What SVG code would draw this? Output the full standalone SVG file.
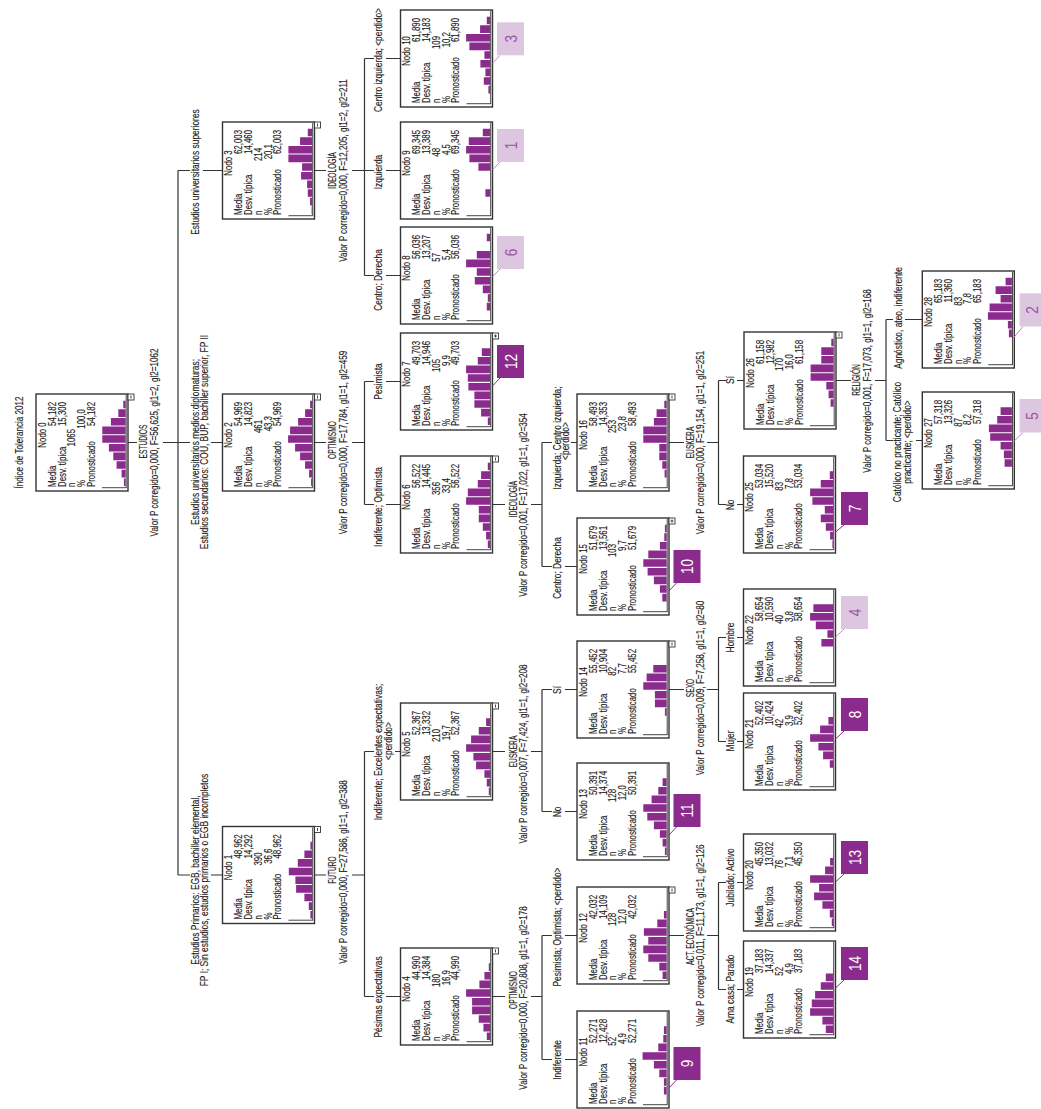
<svg xmlns="http://www.w3.org/2000/svg" width="1041" height="1109" viewBox="0 0 1041 1109">
<style>
.box{fill:#fff;stroke:#333;stroke-width:1.4}
.tb{font-family:"Liberation Sans",Arial,sans-serif;font-size:10.5px;fill:#1e1a1b;stroke:#1e1a1b;stroke-width:0.15}
.c{text-anchor:middle}
.e{text-anchor:end}
.bar{fill:#8b2b8d}
.ax{fill:none;stroke:#333;stroke-width:0.9}
.ic rect{fill:#fff;stroke:#333;stroke-width:0.9}
.ic path{fill:none;stroke:#333;stroke-width:0.9}
.ln{fill:none;stroke:#333;stroke-width:1.2}
.lb{font-family:"Liberation Sans",Arial,sans-serif;font-size:10.5px;fill:#1e1a1b;stroke:#1e1a1b;stroke-width:0.15;text-anchor:middle}
.bd{fill:#8b2b8d}
.bl{fill:#dcc6e0}
.ld{fill:none;stroke:#8b2b8d;stroke-width:1}
.ll{fill:none;stroke:#b98cbf;stroke-width:1}
.bn{font-family:"Liberation Sans",Arial,sans-serif;font-size:17px;text-anchor:middle;fill:#fff}
.bnl{font-family:"Liberation Sans",Arial,sans-serif;font-size:17px;text-anchor:middle;fill:#9b55a0}
</style>
<rect width="1041" height="1109" fill="#fff"/>
<text class="lb" transform="translate(22.5 442.5) rotate(-90) scale(0.77 1)">Índice de Tolerancia 2012</text>

<g id="connectors" class="ln">
<path d="M128 442.5H137M163 442.5H178M178 170.5V875M178 170.5H190M203 170.5H222.5M178 442.5H190M211 442.5H222.5M178 875H190M211 875H222.5"/>
<path d="M314.5 170.5H326M352 170.5H364.5M364.5 58.5V275.5M364.5 58.5H374M386 58.5H400.5M364.5 170.5H374M386 170.5H400.5M364.5 275.5H374M386 275.5H400.5"/>
<path d="M314.5 442.5H326M352 442.5H364.5M364.5 381.5V504.5M364.5 381.5H374M386 381.5H400.5M364.5 504.5H374M386 504.5H400.5"/>
<path d="M314.5 875H326M352 875H364.5M364.5 751.5V996.5M364.5 751.5H374M395 751.5H400.5M364.5 996.5H374M386 996.5H400.5"/>
<path d="M492.5 996.5H505M531 996.5H542M542 935.5V1059.5M542 935.5H552M565 935.5H577M542 1059.5H552M565 1059.5H577"/>
<path d="M492.5 751.5H505M531 751.5H542M542 689.5V811.5M542 689.5H552M565 689.5H577M542 811.5H552M565 811.5H577"/>
<path d="M492.5 504.5H505M531 504.5H542M542 442.5V566.5M542 442.5H552M571 442.5H577M542 566.5H552M565 566.5H577"/>
<path d="M669 935.5H684M707 935.5H718.5M718.5 882.5V989.5M718.5 882.5H726M737 882.5H743.5M718.5 989.5H726M737 989.5H743.5"/>
<path d="M669 689.5H684M707 689.5H718.5M718.5 637.5V741.5M718.5 637.5H726M737 637.5H743.5M718.5 741.5H726M737 741.5H743.5"/>
<path d="M669 442.5H684M707 442.5H718.5M718.5 380.5V504.5M718.5 380.5H726M737 380.5H744M718.5 504.5H726M737 504.5H743.5"/>
<path d="M836 380.5H851M875 380.5H886M886 319.5V440.5M886 319.5H893M905 319.5H922.3M886 440.5H893M916 440.5H922.3"/>
</g>

<g id="edge-labels">
<text class="lb" transform="translate(198.5 172) rotate(-90) scale(0.8 1)">Estudios universitarios superiores</text>
<text class="lb" transform="translate(198.5 442) rotate(-90) scale(0.8 1)">Estudios universitarios medios:diplomaturas;</text>
<text class="lb" transform="translate(207.5 442) rotate(-90) scale(0.8 1)">Estudios secundarios: COU, BUP, bachiller superior, FP II</text>
<text class="lb" transform="translate(198.5 880) rotate(-90) scale(0.8 1)">Estudios Primarios: EGB, bachiller elemental,</text>
<text class="lb" transform="translate(207.5 880) rotate(-90) scale(0.8 1)">FP I; Sin estudios, estudios primarios o EGB incompletos</text>
<text class="lb" transform="translate(382 60) rotate(-90) scale(0.8 1)">Centro izquierda; &lt;perdido&gt;</text>
<text class="lb" transform="translate(382 172) rotate(-90) scale(0.8 1)">Izquierda</text>
<text class="lb" transform="translate(382 280) rotate(-90) scale(0.8 1)">Centro; Derecha</text>
<text class="lb" transform="translate(382 381.5) rotate(-90) scale(0.8 1)">Pesimista</text>
<text class="lb" transform="translate(382 507) rotate(-90) scale(0.8 1)">Indiferente; Optimista</text>
<text class="lb" transform="translate(382 752) rotate(-90) scale(0.8 1)">Indiferente; Excelentes expectativas;</text>
<text class="lb" transform="translate(391.5 741) rotate(-90) scale(0.8 1)">&lt;perdido&gt;</text>
<text class="lb" transform="translate(382 997) rotate(-90) scale(0.8 1)">Pésimas expectativas</text>
<text class="lb" transform="translate(560.5 438) rotate(-90) scale(0.8 1)">Izquierda; Centro izquierda;</text>
<text class="lb" transform="translate(569 441) rotate(-90) scale(0.8 1)">&lt;perdido&gt;</text>
<text class="lb" transform="translate(561 568) rotate(-90) scale(0.8 1)">Centro; Derecha</text>
<text class="lb" transform="translate(561 690) rotate(-90) scale(0.8 1)">Sí</text>
<text class="lb" transform="translate(561 812) rotate(-90) scale(0.8 1)">No</text>
<text class="lb" transform="translate(561 927) rotate(-90) scale(0.8 1)">Pesimista; Optimista; &lt;perdido&gt;</text>
<text class="lb" transform="translate(561 1060) rotate(-90) scale(0.8 1)">Indiferente</text>
<text class="lb" transform="translate(734 380) rotate(-90) scale(0.8 1)">Sí</text>
<text class="lb" transform="translate(734 505) rotate(-90) scale(0.8 1)">No</text>
<text class="lb" transform="translate(734 637.5) rotate(-90) scale(0.8 1)">Hombre</text>
<text class="lb" transform="translate(734 741) rotate(-90) scale(0.8 1)">Mujer</text>
<text class="lb" transform="translate(734 877.5) rotate(-90) scale(0.8 1)">Jubilado; Activo</text>
<text class="lb" transform="translate(734 989) rotate(-90) scale(0.8 1)">Ama casa; Parado</text>
<text class="lb" transform="translate(901.5 318) rotate(-90) scale(0.8 1)">Agnóstico, ateo, indiferente</text>
<text class="lb" transform="translate(901 442) rotate(-90) scale(0.8 1)">Católico no practicante; Católico</text>
<text class="lb" transform="translate(911 442) rotate(-90) scale(0.8 1)">practicante; &lt;perdido&gt;</text>
</g>

<g id="split-labels">
<text class="lb" transform="translate(146.5 441.5) rotate(-90) scale(0.63 1)">ESTUDIOS</text>
<text class="lb" transform="translate(158 442.5) rotate(-90) scale(0.77 1)">Valor P corregido=0,000, F=56,625, gl1=2, gl2=1062</text>
<text class="lb" transform="translate(335.5 170.5) rotate(-90) scale(0.63 1)">IDEOLOGÍA</text>
<text class="lb" transform="translate(346.5 170.5) rotate(-90) scale(0.77 1)">Valor P corregido=0,000, F=12,205, gl1=2, gl2=211</text>
<text class="lb" transform="translate(335.5 440) rotate(-90) scale(0.63 1)">OPTIMISMO</text>
<text class="lb" transform="translate(346.5 442.5) rotate(-90) scale(0.77 1)">Valor P corregido=0,000, F=17,784, gl1=1, gl2=459</text>
<text class="lb" transform="translate(335.5 870) rotate(-90) scale(0.63 1)">FUTURO</text>
<text class="lb" transform="translate(346.5 872) rotate(-90) scale(0.77 1)">Valor P corregido=0,000, F=27,586, gl1=1, gl2=388</text>
<text class="lb" transform="translate(516.5 990) rotate(-90) scale(0.63 1)">OPTIMISMO</text>
<text class="lb" transform="translate(527 998) rotate(-90) scale(0.77 1)">Valor P corregido=0,000, F=20,808, gl1=1, gl2=178</text>
<text class="lb" transform="translate(516.5 751.5) rotate(-90) scale(0.63 1)">EUSKERA</text>
<text class="lb" transform="translate(527 754) rotate(-90) scale(0.77 1)">Valor P corregido=0,007, F=7,424, gl1=1, gl2=208</text>
<text class="lb" transform="translate(516.5 499) rotate(-90) scale(0.63 1)">IDEOLOGÍA</text>
<text class="lb" transform="translate(527 505) rotate(-90) scale(0.77 1)">Valor P corregido=0,001, F=17,022, gl1=1, gl2=354</text>
<text class="lb" transform="translate(693.5 936.5) rotate(-90) scale(0.63 1)">ACT. ECONÓMICA</text>
<text class="lb" transform="translate(703.5 935.5) rotate(-90) scale(0.77 1)">Valor P corregido=0,011, F=11,173, gl1=1, gl2=126</text>
<text class="lb" transform="translate(693.5 688) rotate(-90) scale(0.63 1)">SEXO</text>
<text class="lb" transform="translate(703.5 688) rotate(-90) scale(0.77 1)">Valor P corregido=0,009, F=7,258, gl1=1, gl2=80</text>
<text class="lb" transform="translate(693.5 442.5) rotate(-90) scale(0.63 1)">EUSKERA</text>
<text class="lb" transform="translate(703.5 442.5) rotate(-90) scale(0.77 1)">Valor P corregido=0,000, F=19,154, gl1=1, gl2=251</text>
<text class="lb" transform="translate(859.5 380) rotate(-90) scale(0.63 1)">RELIGIÓN</text>
<text class="lb" transform="translate(871 381) rotate(-90) scale(0.77 1)">Valor P corregido=0,001, F=17,073, gl1=1, gl2=168</text>
</g>

<g id="node-0"><g transform="translate(36 491) rotate(-90)">
<rect class="box" width="97" height="92"/>
<g class="tb" transform="scale(0.75 1)"><text x="74.7" y="10" class="c">Nodo 0</text><text x="5.3" y="20">Media</text><text x="5.3" y="29.7">Desv. típica</text><text x="5.3" y="39.4">n</text><text x="5.3" y="49.1">%</text><text x="5.3" y="58.8">Pronosticado</text><text x="118.7" y="20" class="e">54,182</text><text x="118.7" y="29.7" class="e">15,300</text><text x="82.7" y="39.4" class="e">1065</text><text x="109.3" y="49.1" class="e">100,0</text><text x="118.7" y="58.8" class="e">54,182</text></g>
<path class="bar" d="M4.9 89.6v-1.7h7.6v1.7zM13.55 89.6v-4h7.6v4zM22.2 89.6v-9h7.6v9zM30.85 89.6v-12.3h7.6v12.3zM39.5 89.6v-16.7h7.6v16.7zM48.15 89.6v-23.3h7.6v23.3zM56.8 89.6v-23.3h7.6v23.3zM65.45 89.6v-14.7h7.6v14.7zM74.1 89.6v-7.3h7.6v7.3zM82.75 89.6v-2.3h7.6v2.3z"/>
<path class="ax" d="M3.3 66V90.6M3.3 90.2H96"/>
<g class="ic"><rect x="91" y="92" width="6" height="6"/><path d="M92.5 95H95.5"/></g>
</g></g>

<g id="node-1"><g transform="translate(222.5 923.5) rotate(-90)">
<rect class="box" width="97" height="92"/>
<g class="tb" transform="scale(0.75 1)"><text x="74.7" y="10" class="c">Nodo 1</text><text x="5.3" y="20">Media</text><text x="5.3" y="29.7">Desv. típica</text><text x="5.3" y="39.4">n</text><text x="5.3" y="49.1">%</text><text x="5.3" y="58.8">Pronosticado</text><text x="118.7" y="20" class="e">48,962</text><text x="118.7" y="29.7" class="e">14,292</text><text x="94.7" y="39.4" class="e">390</text><text x="100" y="49.1" class="e">36,6</text><text x="118.7" y="58.8" class="e">48,962</text></g>
<path class="bar" d="M4.9 89.6v-1.7h7.6v1.7zM13.55 89.6v-3.3h7.6v3.3zM22.2 89.6v-7.7h7.6v7.7zM30.85 89.6v-16h7.6v16zM39.5 89.6v-16.7h7.6v16.7zM48.15 89.6v-23.3h7.6v23.3zM56.8 89.6v-14.3h7.6v14.3zM65.45 89.6v-7.7h7.6v7.7zM74.1 89.6v-1.7h7.6v1.7z"/>
<path class="ax" d="M3.3 66V90.6M3.3 90.2H96"/>
<g class="ic"><rect x="91" y="92" width="6" height="6"/><path d="M92.5 95H95.5"/></g>
</g></g>

<g id="node-2"><g transform="translate(222.5 491) rotate(-90)">
<rect class="box" width="97" height="92"/>
<g class="tb" transform="scale(0.75 1)"><text x="74.7" y="10" class="c">Nodo 2</text><text x="5.3" y="20">Media</text><text x="5.3" y="29.7">Desv. típica</text><text x="5.3" y="39.4">n</text><text x="5.3" y="49.1">%</text><text x="5.3" y="58.8">Pronosticado</text><text x="118.7" y="20" class="e">54,969</text><text x="118.7" y="29.7" class="e">14,823</text><text x="94.7" y="39.4" class="e">461</text><text x="100" y="49.1" class="e">43,3</text><text x="118.7" y="58.8" class="e">54,969</text></g>
<path class="bar" d="M4.9 89.6v-1h7.6v1zM13.55 89.6v-3h7.6v3zM22.2 89.6v-7h7.6v7zM30.85 89.6v-12h7.6v12zM39.5 89.6v-17h7.6v17zM48.15 89.6v-24h7.6v24zM56.8 89.6v-22h7.6v22zM65.45 89.6v-14h7.6v14zM74.1 89.6v-7h7.6v7zM82.75 89.6v-2h7.6v2z"/>
<path class="ax" d="M3.3 66V90.6M3.3 90.2H96"/>
<g class="ic"><rect x="91" y="92" width="6" height="6"/><path d="M92.5 95H95.5"/></g>
</g></g>

<g id="node-3"><g transform="translate(222.5 219) rotate(-90)">
<rect class="box" width="97" height="92"/>
<g class="tb" transform="scale(0.75 1)"><text x="74.7" y="10" class="c">Nodo 3</text><text x="5.3" y="20">Media</text><text x="5.3" y="29.7">Desv. típica</text><text x="5.3" y="39.4">n</text><text x="5.3" y="49.1">%</text><text x="5.3" y="58.8">Pronosticado</text><text x="118.7" y="20" class="e">62,003</text><text x="118.7" y="29.7" class="e">14,460</text><text x="94.7" y="39.4" class="e">214</text><text x="100" y="49.1" class="e">20,1</text><text x="118.7" y="58.8" class="e">62,003</text></g>
<path class="bar" d="M4.9 89.6v-0.5h7.6v0.5zM13.55 89.6v-2h7.6v2zM22.2 89.6v-4.3h7.6v4.3zM30.85 89.6v-5h7.6v5zM39.5 89.6v-11h7.6v11zM48.15 89.6v-10h7.6v10zM56.8 89.6v-23.7h7.6v23.7zM65.45 89.6v-23.7h7.6v23.7zM74.1 89.6v-12h7.6v12zM82.75 89.6v-4.3h7.6v4.3z"/>
<path class="ax" d="M3.3 66V90.6M3.3 90.2H96"/>
<g class="ic"><rect x="91" y="92" width="6" height="6"/><path d="M92.5 95H95.5"/></g>
</g></g>

<g id="node-4"><g transform="translate(400.5 1045) rotate(-90)">
<rect class="box" width="97" height="92"/>
<g class="tb" transform="scale(0.75 1)"><text x="74.7" y="10" class="c">Nodo 4</text><text x="5.3" y="20">Media</text><text x="5.3" y="29.7">Desv. típica</text><text x="5.3" y="39.4">n</text><text x="5.3" y="49.1">%</text><text x="5.3" y="58.8">Pronosticado</text><text x="118.7" y="20" class="e">44,990</text><text x="118.7" y="29.7" class="e">14,384</text><text x="94.7" y="39.4" class="e">180</text><text x="100" y="49.1" class="e">16,9</text><text x="118.7" y="58.8" class="e">44,990</text></g>
<path class="bar" d="M4.9 89.6v-3.3h7.6v3.3zM13.55 89.6v-6.7h7.6v6.7zM22.2 89.6v-11.3h7.6v11.3zM30.85 89.6v-18h7.6v18zM39.5 89.6v-18h7.6v18zM48.15 89.6v-24h7.6v24zM56.8 89.6v-10.7h7.6v10.7zM65.45 89.6v-5.7h7.6v5.7zM74.1 89.6v-1.3h7.6v1.3z"/>
<path class="ax" d="M3.3 66V90.6M3.3 90.2H96"/>
<g class="ic"><rect x="91" y="92" width="6" height="6"/><path d="M92.5 95H95.5"/></g>
</g></g>

<g id="node-5"><g transform="translate(400.5 800) rotate(-90)">
<rect class="box" width="97" height="92"/>
<g class="tb" transform="scale(0.75 1)"><text x="74.7" y="10" class="c">Nodo 5</text><text x="5.3" y="20">Media</text><text x="5.3" y="29.7">Desv. típica</text><text x="5.3" y="39.4">n</text><text x="5.3" y="49.1">%</text><text x="5.3" y="58.8">Pronosticado</text><text x="118.7" y="20" class="e">52,367</text><text x="118.7" y="29.7" class="e">13,332</text><text x="94.7" y="39.4" class="e">210</text><text x="100" y="49.1" class="e">19,7</text><text x="118.7" y="58.8" class="e">52,367</text></g>
<path class="bar" d="M4.9 89.6v-1.3h7.6v1.3zM13.55 89.6v-3.3h7.6v3.3zM22.2 89.6v-5.7h7.6v5.7zM30.85 89.6v-14h7.6v14zM39.5 89.6v-16.7h7.6v16.7zM48.15 89.6v-24h7.6v24zM56.8 89.6v-19h7.6v19zM65.45 89.6v-11.3h7.6v11.3zM74.1 89.6v-4h7.6v4z"/>
<path class="ax" d="M3.3 66V90.6M3.3 90.2H96"/>
<g class="ic"><rect x="91" y="92" width="6" height="6"/><path d="M92.5 95H95.5"/></g>
</g></g>

<g id="node-6"><g transform="translate(400.5 553) rotate(-90)">
<rect class="box" width="97" height="92"/>
<g class="tb" transform="scale(0.75 1)"><text x="74.7" y="10" class="c">Nodo 6</text><text x="5.3" y="20">Media</text><text x="5.3" y="29.7">Desv. típica</text><text x="5.3" y="39.4">n</text><text x="5.3" y="49.1">%</text><text x="5.3" y="58.8">Pronosticado</text><text x="118.7" y="20" class="e">56,522</text><text x="118.7" y="29.7" class="e">14,445</text><text x="94.7" y="39.4" class="e">356</text><text x="100" y="49.1" class="e">33,4</text><text x="118.7" y="58.8" class="e">56,522</text></g>
<path class="bar" d="M4.9 89.6v-2.3h7.6v2.3zM13.55 89.6v-4h7.6v4zM22.2 89.6v-7.3h7.6v7.3zM30.85 89.6v-11.3h7.6v11.3zM39.5 89.6v-11.3h7.6v11.3zM48.15 89.6v-24h7.6v24zM56.8 89.6v-22.3h7.6v22.3zM65.45 89.6v-12.3h7.6v12.3zM74.1 89.6v-9h7.6v9zM82.75 89.6v-2.3h7.6v2.3z"/>
<path class="ax" d="M3.3 66V90.6M3.3 90.2H96"/>
<g class="ic"><rect x="91" y="92" width="6" height="6"/><path d="M92.5 95H95.5"/></g>
</g></g>

<g id="node-7"><g transform="translate(400.5 430) rotate(-90)">
<rect class="box" width="97" height="92"/>
<g class="tb" transform="scale(0.75 1)"><text x="74.7" y="10" class="c">Nodo 7</text><text x="5.3" y="20">Media</text><text x="5.3" y="29.7">Desv. típica</text><text x="5.3" y="39.4">n</text><text x="5.3" y="49.1">%</text><text x="5.3" y="58.8">Pronosticado</text><text x="118.7" y="20" class="e">49,703</text><text x="118.7" y="29.7" class="e">14,946</text><text x="94.7" y="39.4" class="e">105</text><text x="100" y="49.1" class="e">9,9</text><text x="118.7" y="58.8" class="e">49,703</text></g>
<path class="bar" d="M4.9 89.6v-2.3h7.6v2.3zM13.55 89.6v-9h7.6v9zM22.2 89.6v-15.7h7.6v15.7zM30.85 89.6v-15.7h7.6v15.7zM39.5 89.6v-21.7h7.6v21.7zM48.15 89.6v-22.3h7.6v22.3zM56.8 89.6v-24h7.6v24zM65.45 89.6v-12.3h7.6v12.3zM74.1 89.6v-8.3h7.6v8.3z"/>
<path class="ax" d="M3.3 66V90.6M3.3 90.2H96"/>
<g class="ic"><rect x="91" y="92" width="6" height="6"/><path d="M92.5 95H95.5M94 93.5V96.5"/></g>
</g>
<path class="ld" d="M492.5 386L500 378"/>
<rect class="bd" x="497" y="345" width="27" height="33"/>
<text class="bn" transform="translate(510.5 361.5) rotate(-90) scale(0.8 1)" y="6.1">12</text>
</g>

<g id="node-8"><g transform="translate(400.5 324) rotate(-90)">
<rect class="box" width="97" height="92"/>
<g class="tb" transform="scale(0.75 1)"><text x="74.7" y="10" class="c">Nodo 8</text><text x="5.3" y="20">Media</text><text x="5.3" y="29.7">Desv. típica</text><text x="5.3" y="39.4">n</text><text x="5.3" y="49.1">%</text><text x="5.3" y="58.8">Pronosticado</text><text x="118.7" y="20" class="e">56,036</text><text x="118.7" y="29.7" class="e">13,207</text><text x="94.7" y="39.4" class="e">57</text><text x="100" y="49.1" class="e">5,4</text><text x="118.7" y="58.8" class="e">56,036</text></g>
<path class="bar" d="M13.55 89.6v-3.3h7.6v3.3zM22.2 89.6v-2.3h7.6v2.3zM30.85 89.6v-7.3h7.6v7.3zM39.5 89.6v-15.3h7.6v15.3zM48.15 89.6v-13.3h7.6v13.3zM56.8 89.6v-24h7.6v24zM65.45 89.6v-13.3h7.6v13.3zM82.75 89.6v-3.3h7.6v3.3z"/>
<path class="ax" d="M3.3 66V90.6M3.3 90.2H96"/>
</g>
<path class="ll" d="M492.5 277L500 269"/>
<rect class="bl" x="497" y="236" width="27" height="33"/>
<text class="bnl" transform="translate(510.5 252.5) rotate(-90) scale(0.8 1)" y="6.1">6</text>
</g>

<g id="node-9"><g transform="translate(400.5 219) rotate(-90)">
<rect class="box" width="97" height="92"/>
<g class="tb" transform="scale(0.75 1)"><text x="74.7" y="10" class="c">Nodo 9</text><text x="5.3" y="20">Media</text><text x="5.3" y="29.7">Desv. típica</text><text x="5.3" y="39.4">n</text><text x="5.3" y="49.1">%</text><text x="5.3" y="58.8">Pronosticado</text><text x="118.7" y="20" class="e">69,345</text><text x="118.7" y="29.7" class="e">13,389</text><text x="94.7" y="39.4" class="e">48</text><text x="100" y="49.1" class="e">4,5</text><text x="118.7" y="58.8" class="e">69,345</text></g>
<path class="bar" d="M22.2 89.6v-4.7h7.6v4.7zM48.15 89.6v-11.7h7.6v11.7zM56.8 89.6v-20.7h7.6v20.7zM65.45 89.6v-24h7.6v24zM74.1 89.6v-21.3h7.6v21.3zM82.75 89.6v-7.3h7.6v7.3z"/>
<path class="ax" d="M3.3 66V90.6M3.3 90.2H96"/>
</g>
<path class="ll" d="M492.5 170L500 162"/>
<rect class="bl" x="497" y="129" width="27" height="33"/>
<text class="bnl" transform="translate(510.5 145.5) rotate(-90) scale(0.8 1)" y="6.1">1</text>
</g>

<g id="node-10"><g transform="translate(400.5 107) rotate(-90)">
<rect class="box" width="97" height="92"/>
<g class="tb" transform="scale(0.75 1)"><text x="74.7" y="10" class="c">Nodo 10</text><text x="5.3" y="20">Media</text><text x="5.3" y="29.7">Desv. típica</text><text x="5.3" y="39.4">n</text><text x="5.3" y="49.1">%</text><text x="5.3" y="58.8">Pronosticado</text><text x="118.7" y="20" class="e">61,890</text><text x="118.7" y="29.7" class="e">14,183</text><text x="94.7" y="39.4" class="e">109</text><text x="100" y="49.1" class="e">10,2</text><text x="118.7" y="58.8" class="e">61,890</text></g>
<path class="bar" d="M13.55 89.6v-1.7h7.6v1.7zM22.2 89.6v-6.3h7.6v6.3zM30.85 89.6v-4.7h7.6v4.7zM39.5 89.6v-9.7h7.6v9.7zM48.15 89.6v-5.7h7.6v5.7zM56.8 89.6v-20.7h7.6v20.7zM65.45 89.6v-24h7.6v24zM74.1 89.6v-10h7.6v10zM82.75 89.6v-3.3h7.6v3.3z"/>
<path class="ax" d="M3.3 66V90.6M3.3 90.2H96"/>
</g>
<path class="ll" d="M492.5 63.3L500 55.3"/>
<rect class="bl" x="497" y="22.3" width="27" height="33"/>
<text class="bnl" transform="translate(510.5 38.8) rotate(-90) scale(0.8 1)" y="6.1">3</text>
</g>

<g id="node-11"><g transform="translate(577 1108) rotate(-90)">
<rect class="box" width="97" height="92"/>
<g class="tb" transform="scale(0.75 1)"><text x="74.7" y="10" class="c">Nodo 11</text><text x="5.3" y="20">Media</text><text x="5.3" y="29.7">Desv. típica</text><text x="5.3" y="39.4">n</text><text x="5.3" y="49.1">%</text><text x="5.3" y="58.8">Pronosticado</text><text x="118.7" y="20" class="e">52,271</text><text x="118.7" y="29.7" class="e">12,428</text><text x="94.7" y="39.4" class="e">52</text><text x="100" y="49.1" class="e">4,9</text><text x="118.7" y="58.8" class="e">52,271</text></g>
<path class="bar" d="M13.55 89.6v-2.7h7.6v2.7zM22.2 89.6v-2.7h7.6v2.7zM30.85 89.6v-7.3h7.6v7.3zM39.5 89.6v-12.7h7.6v12.7zM48.15 89.6v-24h7.6v24zM56.8 89.6v-8.3h7.6v8.3zM65.45 89.6v-3.3h7.6v3.3zM74.1 89.6v-2.7h7.6v2.7z"/>
<path class="ax" d="M3.3 66V90.6M3.3 90.2H96"/>
</g>
<path class="ld" d="M669 1088L676.5 1080"/>
<rect class="bd" x="673.5" y="1047" width="27" height="33"/>
<text class="bn" transform="translate(687 1063.5) rotate(-90) scale(0.8 1)" y="6.1">9</text>
</g>

<g id="node-12"><g transform="translate(577 984) rotate(-90)">
<rect class="box" width="97" height="92"/>
<g class="tb" transform="scale(0.75 1)"><text x="74.7" y="10" class="c">Nodo 12</text><text x="5.3" y="20">Media</text><text x="5.3" y="29.7">Desv. típica</text><text x="5.3" y="39.4">n</text><text x="5.3" y="49.1">%</text><text x="5.3" y="58.8">Pronosticado</text><text x="118.7" y="20" class="e">42,032</text><text x="118.7" y="29.7" class="e">14,109</text><text x="94.7" y="39.4" class="e">128</text><text x="100" y="49.1" class="e">12,0</text><text x="118.7" y="58.8" class="e">42,032</text></g>
<path class="bar" d="M4.9 89.6v-4h7.6v4zM13.55 89.6v-7.3h7.6v7.3zM22.2 89.6v-18.3h7.6v18.3zM30.85 89.6v-23.3h7.6v23.3zM39.5 89.6v-18.3h7.6v18.3zM48.15 89.6v-22.7h7.6v22.7zM56.8 89.6v-9.3h7.6v9.3zM65.45 89.6v-2.7h7.6v2.7z"/>
<path class="ax" d="M3.3 66V90.6M3.3 90.2H96"/>
<g class="ic"><rect x="91" y="92" width="6" height="6"/><path d="M92.5 95H95.5"/></g>
</g></g>

<g id="node-13"><g transform="translate(577 860) rotate(-90)">
<rect class="box" width="97" height="92"/>
<g class="tb" transform="scale(0.75 1)"><text x="74.7" y="10" class="c">Nodo 13</text><text x="5.3" y="20">Media</text><text x="5.3" y="29.7">Desv. típica</text><text x="5.3" y="39.4">n</text><text x="5.3" y="49.1">%</text><text x="5.3" y="58.8">Pronosticado</text><text x="118.7" y="20" class="e">50,391</text><text x="118.7" y="29.7" class="e">14,374</text><text x="94.7" y="39.4" class="e">128</text><text x="100" y="49.1" class="e">12,0</text><text x="118.7" y="58.8" class="e">50,391</text></g>
<path class="bar" d="M4.9 89.6v-1.7h7.6v1.7zM13.55 89.6v-4h7.6v4zM22.2 89.6v-6.7h7.6v6.7zM30.85 89.6v-12.7h7.6v12.7zM39.5 89.6v-19.3h7.6v19.3zM48.15 89.6v-23.3h7.6v23.3zM56.8 89.6v-15h7.6v15zM65.45 89.6v-8.3h7.6v8.3zM74.1 89.6v-4h7.6v4z"/>
<path class="ax" d="M3.3 66V90.6M3.3 90.2H96"/>
</g>
<path class="ld" d="M669 835L676.5 827"/>
<rect class="bd" x="673.5" y="794" width="27" height="33"/>
<text class="bn" transform="translate(687 810.5) rotate(-90) scale(0.8 1)" y="6.1">11</text>
</g>

<g id="node-14"><g transform="translate(577 738) rotate(-90)">
<rect class="box" width="97" height="92"/>
<g class="tb" transform="scale(0.75 1)"><text x="74.7" y="10" class="c">Nodo 14</text><text x="5.3" y="20">Media</text><text x="5.3" y="29.7">Desv. típica</text><text x="5.3" y="39.4">n</text><text x="5.3" y="49.1">%</text><text x="5.3" y="58.8">Pronosticado</text><text x="118.7" y="20" class="e">55,452</text><text x="118.7" y="29.7" class="e">10,904</text><text x="94.7" y="39.4" class="e">82</text><text x="100" y="49.1" class="e">7,7</text><text x="118.7" y="58.8" class="e">55,452</text></g>
<path class="bar" d="M22.2 89.6v-1.7h7.6v1.7zM30.85 89.6v-11.7h7.6v11.7zM39.5 89.6v-11.7h7.6v11.7zM48.15 89.6v-23.3h7.6v23.3zM56.8 89.6v-20h7.6v20zM65.45 89.6v-13.3h7.6v13.3z"/>
<path class="ax" d="M3.3 66V90.6M3.3 90.2H96"/>
<g class="ic"><rect x="91" y="92" width="6" height="6"/><path d="M92.5 95H95.5"/></g>
</g></g>

<g id="node-15"><g transform="translate(577 615) rotate(-90)">
<rect class="box" width="97" height="92"/>
<g class="tb" transform="scale(0.75 1)"><text x="74.7" y="10" class="c">Nodo 15</text><text x="5.3" y="20">Media</text><text x="5.3" y="29.7">Desv. típica</text><text x="5.3" y="39.4">n</text><text x="5.3" y="49.1">%</text><text x="5.3" y="58.8">Pronosticado</text><text x="118.7" y="20" class="e">51,679</text><text x="118.7" y="29.7" class="e">13,561</text><text x="94.7" y="39.4" class="e">103</text><text x="100" y="49.1" class="e">9,7</text><text x="118.7" y="58.8" class="e">51,679</text></g>
<path class="bar" d="M13.55 89.6v-4.3h7.6v4.3zM22.2 89.6v-6.7h7.6v6.7zM30.85 89.6v-12.7h7.6v12.7zM39.5 89.6v-19h7.6v19zM48.15 89.6v-23.3h7.6v23.3zM56.8 89.6v-18.3h7.6v18.3zM65.45 89.6v-6.7h7.6v6.7zM74.1 89.6v-2.3h7.6v2.3zM82.75 89.6v-1.7h7.6v1.7z"/>
<path class="ax" d="M3.3 66V90.6M3.3 90.2H96"/>
<g class="ic"><rect x="91" y="92" width="6" height="6"/><path d="M92.5 95H95.5M94 93.5V96.5"/></g>
</g>
<path class="ld" d="M669 591L676.5 583"/>
<rect class="bd" x="673.5" y="550" width="27" height="33"/>
<text class="bn" transform="translate(687 566.5) rotate(-90) scale(0.8 1)" y="6.1">10</text>
</g>

<g id="node-16"><g transform="translate(577 491) rotate(-90)">
<rect class="box" width="97" height="92"/>
<g class="tb" transform="scale(0.75 1)"><text x="74.7" y="10" class="c">Nodo 16</text><text x="5.3" y="20">Media</text><text x="5.3" y="29.7">Desv. típica</text><text x="5.3" y="39.4">n</text><text x="5.3" y="49.1">%</text><text x="5.3" y="58.8">Pronosticado</text><text x="118.7" y="20" class="e">58,493</text><text x="118.7" y="29.7" class="e">14,353</text><text x="94.7" y="39.4" class="e">253</text><text x="100" y="49.1" class="e">23,8</text><text x="118.7" y="58.8" class="e">58,493</text></g>
<path class="bar" d="M13.55 89.6v-2h7.6v2zM22.2 89.6v-4.3h7.6v4.3zM30.85 89.6v-7.3h7.6v7.3zM39.5 89.6v-7.3h7.6v7.3zM48.15 89.6v-23.3h7.6v23.3zM56.8 89.6v-23.3h7.6v23.3zM65.45 89.6v-12.7h7.6v12.7zM74.1 89.6v-10h7.6v10zM82.75 89.6v-2.3h7.6v2.3z"/>
<path class="ax" d="M3.3 66V90.6M3.3 90.2H96"/>
<g class="ic"><rect x="91" y="92" width="6" height="6"/><path d="M92.5 95H95.5"/></g>
</g></g>

<g id="node-19"><g transform="translate(743.5 1038) rotate(-90)">
<rect class="box" width="97" height="92"/>
<g class="tb" transform="scale(0.75 1)"><text x="74.7" y="10" class="c">Nodo 19</text><text x="5.3" y="20">Media</text><text x="5.3" y="29.7">Desv. típica</text><text x="5.3" y="39.4">n</text><text x="5.3" y="49.1">%</text><text x="5.3" y="58.8">Pronosticado</text><text x="118.7" y="20" class="e">37,183</text><text x="118.7" y="29.7" class="e">14,337</text><text x="94.7" y="39.4" class="e">52</text><text x="100" y="49.1" class="e">4,9</text><text x="118.7" y="58.8" class="e">37,183</text></g>
<path class="bar" d="M4.9 89.6v-7.3h7.6v7.3zM13.55 89.6v-10.7h7.6v10.7zM22.2 89.6v-23h7.6v23zM30.85 89.6v-21.3h7.6v21.3zM39.5 89.6v-18h7.6v18zM48.15 89.6v-12.3h7.6v12.3zM56.8 89.6v-7.3h7.6v7.3z"/>
<path class="ax" d="M3.3 66V90.6M3.3 90.2H96"/>
</g>
<path class="ld" d="M835.5 988L844 980"/>
<rect class="bd" x="841" y="947" width="27" height="33"/>
<text class="bn" transform="translate(854.5 963.5) rotate(-90) scale(0.8 1)" y="6.1">14</text>
</g>

<g id="node-20"><g transform="translate(743.5 931) rotate(-90)">
<rect class="box" width="97" height="92"/>
<g class="tb" transform="scale(0.75 1)"><text x="74.7" y="10" class="c">Nodo 20</text><text x="5.3" y="20">Media</text><text x="5.3" y="29.7">Desv. típica</text><text x="5.3" y="39.4">n</text><text x="5.3" y="49.1">%</text><text x="5.3" y="58.8">Pronosticado</text><text x="118.7" y="20" class="e">45,350</text><text x="118.7" y="29.7" class="e">13,032</text><text x="94.7" y="39.4" class="e">76</text><text x="100" y="49.1" class="e">7,1</text><text x="118.7" y="58.8" class="e">45,350</text></g>
<path class="bar" d="M4.9 89.6v-1.3h7.6v1.3zM13.55 89.6v-3.3h7.6v3.3zM22.2 89.6v-10.7h7.6v10.7zM30.85 89.6v-19h7.6v19zM39.5 89.6v-14h7.6v14zM48.15 89.6v-23h7.6v23zM56.8 89.6v-8h7.6v8zM65.45 89.6v-3h7.6v3z"/>
<path class="ax" d="M3.3 66V90.6M3.3 90.2H96"/>
</g>
<path class="ld" d="M835.5 882L844 874"/>
<rect class="bd" x="841" y="841" width="27" height="33"/>
<text class="bn" transform="translate(854.5 857.5) rotate(-90) scale(0.8 1)" y="6.1">13</text>
</g>

<g id="node-21"><g transform="translate(743.5 790) rotate(-90)">
<rect class="box" width="97" height="92"/>
<g class="tb" transform="scale(0.75 1)"><text x="74.7" y="10" class="c">Nodo 21</text><text x="5.3" y="20">Media</text><text x="5.3" y="29.7">Desv. típica</text><text x="5.3" y="39.4">n</text><text x="5.3" y="49.1">%</text><text x="5.3" y="58.8">Pronosticado</text><text x="118.7" y="20" class="e">52,402</text><text x="118.7" y="29.7" class="e">10,424</text><text x="94.7" y="39.4" class="e">42</text><text x="100" y="49.1" class="e">3,9</text><text x="118.7" y="58.8" class="e">52,402</text></g>
<path class="bar" d="M22.2 89.6v-3.3h7.6v3.3zM30.85 89.6v-10h7.6v10zM39.5 89.6v-14.7h7.6v14.7zM48.15 89.6v-23h7.6v23zM56.8 89.6v-13h7.6v13zM65.45 89.6v-4.7h7.6v4.7z"/>
<path class="ax" d="M3.3 66V90.6M3.3 90.2H96"/>
</g>
<path class="ld" d="M835.5 739L844 731"/>
<rect class="bd" x="841" y="698" width="27" height="33"/>
<text class="bn" transform="translate(854.5 714.5) rotate(-90) scale(0.8 1)" y="6.1">8</text>
</g>

<g id="node-22"><g transform="translate(743.5 686) rotate(-90)">
<rect class="box" width="97" height="92"/>
<g class="tb" transform="scale(0.75 1)"><text x="74.7" y="10" class="c">Nodo 22</text><text x="5.3" y="20">Media</text><text x="5.3" y="29.7">Desv. típica</text><text x="5.3" y="39.4">n</text><text x="5.3" y="49.1">%</text><text x="5.3" y="58.8">Pronosticado</text><text x="118.7" y="20" class="e">58,654</text><text x="118.7" y="29.7" class="e">10,590</text><text x="94.7" y="39.4" class="e">40</text><text x="100" y="49.1" class="e">3,8</text><text x="118.7" y="58.8" class="e">58,654</text></g>
<path class="bar" d="M39.5 89.6v-11.7h7.6v11.7zM48.15 89.6v-5.7h7.6v5.7zM56.8 89.6v-17.3h7.6v17.3zM65.45 89.6v-23h7.6v23zM74.1 89.6v-19.7h7.6v19.7z"/>
<path class="ax" d="M3.3 66V90.6M3.3 90.2H96"/>
</g>
<path class="ll" d="M835.5 637L844 629"/>
<rect class="bl" x="841" y="596" width="27" height="33"/>
<text class="bnl" transform="translate(854.5 612.5) rotate(-90) scale(0.8 1)" y="6.1">4</text>
</g>

<g id="node-25"><g transform="translate(743.5 553) rotate(-90)">
<rect class="box" width="97" height="92"/>
<g class="tb" transform="scale(0.75 1)"><text x="74.7" y="10" class="c">Nodo 25</text><text x="5.3" y="20">Media</text><text x="5.3" y="29.7">Desv. típica</text><text x="5.3" y="39.4">n</text><text x="5.3" y="49.1">%</text><text x="5.3" y="58.8">Pronosticado</text><text x="118.7" y="20" class="e">53,034</text><text x="118.7" y="29.7" class="e">15,520</text><text x="94.7" y="39.4" class="e">83</text><text x="100" y="49.1" class="e">7,8</text><text x="118.7" y="58.8" class="e">53,034</text></g>
<path class="bar" d="M4.9 89.6v-0.7h7.6v0.7zM13.55 89.6v-3h7.6v3zM22.2 89.6v-7.3h7.6v7.3zM30.85 89.6v-12.3h7.6v12.3zM39.5 89.6v-8.3h7.6v8.3zM48.15 89.6v-20.7h7.6v20.7zM56.8 89.6v-23h7.6v23zM65.45 89.6v-12.3h7.6v12.3zM74.1 89.6v-3.3h7.6v3.3z"/>
<path class="ax" d="M3.3 66V90.6M3.3 90.2H96"/>
</g>
<path class="ld" d="M835.5 532L844 525"/>
<rect class="bd" x="841" y="492" width="27" height="33"/>
<text class="bn" transform="translate(854.5 508.5) rotate(-90) scale(0.8 1)" y="6.1">7</text>
</g>

<g id="node-26"><g transform="translate(744 429) rotate(-90)">
<rect class="box" width="97" height="92"/>
<g class="tb" transform="scale(0.75 1)"><text x="74.7" y="10" class="c">Nodo 26</text><text x="5.3" y="20">Media</text><text x="5.3" y="29.7">Desv. típica</text><text x="5.3" y="39.4">n</text><text x="5.3" y="49.1">%</text><text x="5.3" y="58.8">Pronosticado</text><text x="118.7" y="20" class="e">61,158</text><text x="118.7" y="29.7" class="e">12,982</text><text x="94.7" y="39.4" class="e">170</text><text x="100" y="49.1" class="e">16,0</text><text x="118.7" y="58.8" class="e">61,158</text></g>
<path class="bar" d="M22.2 89.6v-3h7.6v3zM30.85 89.6v-5h7.6v5zM39.5 89.6v-7.3h7.6v7.3zM48.15 89.6v-23h7.6v23zM56.8 89.6v-23h7.6v23zM65.45 89.6v-12.3h7.6v12.3zM74.1 89.6v-12.3h7.6v12.3zM82.75 89.6v-2.3h7.6v2.3z"/>
<path class="ax" d="M3.3 66V90.6M3.3 90.2H96"/>
<g class="ic"><rect x="91" y="92" width="6" height="6"/><path d="M92.5 95H95.5"/></g>
</g></g>

<g id="node-27"><g transform="translate(922.3 489) rotate(-90)">
<rect class="box" width="97" height="92"/>
<g class="tb" transform="scale(0.75 1)"><text x="74.7" y="10" class="c">Nodo 27</text><text x="5.3" y="20">Media</text><text x="5.3" y="29.7">Desv. típica</text><text x="5.3" y="39.4">n</text><text x="5.3" y="49.1">%</text><text x="5.3" y="58.8">Pronosticado</text><text x="118.7" y="20" class="e">57,318</text><text x="118.7" y="29.7" class="e">13,326</text><text x="94.7" y="39.4" class="e">87</text><text x="100" y="49.1" class="e">8,2</text><text x="118.7" y="58.8" class="e">57,318</text></g>
<path class="bar" d="M22.2 89.6v-7.3h7.6v7.3zM30.85 89.6v-8h7.6v8zM39.5 89.6v-11.3h7.6v11.3zM48.15 89.6v-21.7h7.6v21.7zM56.8 89.6v-23h7.6v23zM65.45 89.6v-14.7h7.6v14.7zM74.1 89.6v-11.3h7.6v11.3z"/>
<path class="ax" d="M3.3 66V90.6M3.3 90.2H96"/>
</g>
<path class="ll" d="M1014.3 441L1023 432.5"/>
<rect class="bl" x="1019.5" y="399" width="27" height="33.5"/>
<text class="bnl" transform="translate(1031.5 416) rotate(-90) scale(0.8 1)" y="6.1">5</text>
</g>

<g id="node-28"><g transform="translate(922.3 368) rotate(-90)">
<rect class="box" width="97" height="92"/>
<g class="tb" transform="scale(0.75 1)"><text x="74.7" y="10" class="c">Nodo 28</text><text x="5.3" y="20">Media</text><text x="5.3" y="29.7">Desv. típica</text><text x="5.3" y="39.4">n</text><text x="5.3" y="49.1">%</text><text x="5.3" y="58.8">Pronosticado</text><text x="118.7" y="20" class="e">65,183</text><text x="118.7" y="29.7" class="e">11,360</text><text x="94.7" y="39.4" class="e">83</text><text x="100" y="49.1" class="e">7,8</text><text x="118.7" y="58.8" class="e">65,183</text></g>
<path class="bar" d="M30.85 89.6v-3h7.6v3zM39.5 89.6v-4h7.6v4zM48.15 89.6v-24h7.6v24zM56.8 89.6v-22.3h7.6v22.3zM65.45 89.6v-11.3h7.6v11.3zM74.1 89.6v-16.3h7.6v16.3zM82.75 89.6v-6.3h7.6v6.3z"/>
<path class="ax" d="M3.3 66V90.6M3.3 90.2H96"/>
</g>
<path class="ll" d="M1014.3 337L1023 326.5"/>
<rect class="bl" x="1019.5" y="293.3" width="27" height="33.2"/>
<text class="bnl" transform="translate(1031.5 310) rotate(-90) scale(0.8 1)" y="6.1">2</text>
</g>
</svg>
